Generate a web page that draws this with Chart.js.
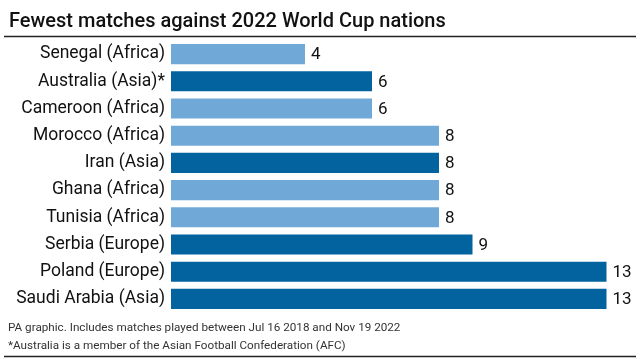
<!DOCTYPE html>
<html>
<head>
<meta charset="utf-8">
<script src="https://cdn.jsdelivr.net/npm/chart.js@4"></script>
<style>
  html, body { margin: 0; padding: 0; background: #fff; }
  #wrap { width: 640px; height: 360px; position: relative; }
</style>
</head>
<body>
<div id="wrap"><canvas id="chart" width="640" height="360"></canvas></div>
<script>
// datos
const countries = ["Senegal (Africa)", "Australia (Asia)*", "Cameroon (Africa)", "Morocco (Africa)", "Iran (Asia)",
    "Ghana (Africa)", "Tunisia (Africa)", "Serbia (Europe)", "Poland (Europe)", "Saudi Arabia (Asia)"];
const matches = [4, 6, 6, 8, 8, 8, 8, 9, 13, 13];
const regions = ["Africa", "Asia", "Africa", "Africa", "Asia", "Africa", "Africa", "Europe", "Europe", "Asia"];

const titleText = "Fewest matches against 2022 World Cup nations";
const footnotes = [
    "PA graphic. Includes matches played between Jul 16 2018 and Nov 19 2022",
    "*Australia is a member of the Asian Football Confederation (AFC)"
];

const lightBlue = "#70a9d8";
const darkBlue = "#03639f";
const barColors = regions.map(r => r === "Africa" ? lightBlue : darkBlue);

// Título, líneas, notas y etiquetas de valor
const decorations = {
    id: "decorations",
    afterDraw(chart) {
        const ctx = chart.ctx;
        ctx.save();
        ctx.fillStyle = "#111";
        ctx.font = "500 20px Roboto";
        ctx.textBaseline = "alphabetic";
        ctx.textAlign = "left";
        ctx.fillText(titleText, 9, 27);

        ctx.strokeStyle = "#222";
        ctx.lineWidth = 1.5;
        ctx.beginPath();
        ctx.moveTo(4, 36.5);
        ctx.lineTo(636, 36.5);
        ctx.stroke();
        ctx.beginPath();
        ctx.moveTo(4, 356.5);
        ctx.lineTo(636, 356.5);
        ctx.stroke();

        ctx.fillStyle = "#333";
        ctx.font = "11.7px Roboto";
        ctx.fillText(footnotes[0], 8, 331);
        ctx.fillText(footnotes[1], 8, 349);

        // valores al final de cada barra
        const meta = chart.getDatasetMeta(0);
        ctx.fillStyle = "#111";
        ctx.font = "17px Roboto";
        ctx.textBaseline = "middle";
        meta.data.forEach((bar, i) => {
            ctx.fillText(String(matches[i]), bar.x + 6, bar.y + 1);
        });
        ctx.restore();
    }
};

const chart = new Chart(document.getElementById("chart"), {
    type: "bar",
    data: {
        labels: countries,
        datasets: [{
            data: matches,
            backgroundColor: barColors,
            borderWidth: 0,
            barPercentage: 0.74,
            categoryPercentage: 1
        }]
    },
    options: {
        indexAxis: "y",
        responsive: false,
        animation: false,
        layout: { padding: { top: 40.5, bottom: 47.5, left: 0, right: 0 } },
        scales: {
            x: {
                display: false,
                min: 0,
                max: 14
            },
            y: {
                grid: { display: false, drawTicks: false },
                border: { display: false },
                ticks: {
                    color: "#111",
                    font: { family: "Roboto", size: 17.5 },
                    padding: 6
                },
                afterFit(scale) { scale.width = 171; }
            }
        },
        plugins: {
            legend: { display: false },
            tooltip: { enabled: false }
        }
    },
    plugins: [decorations]
});
</script>
</body>
</html>
